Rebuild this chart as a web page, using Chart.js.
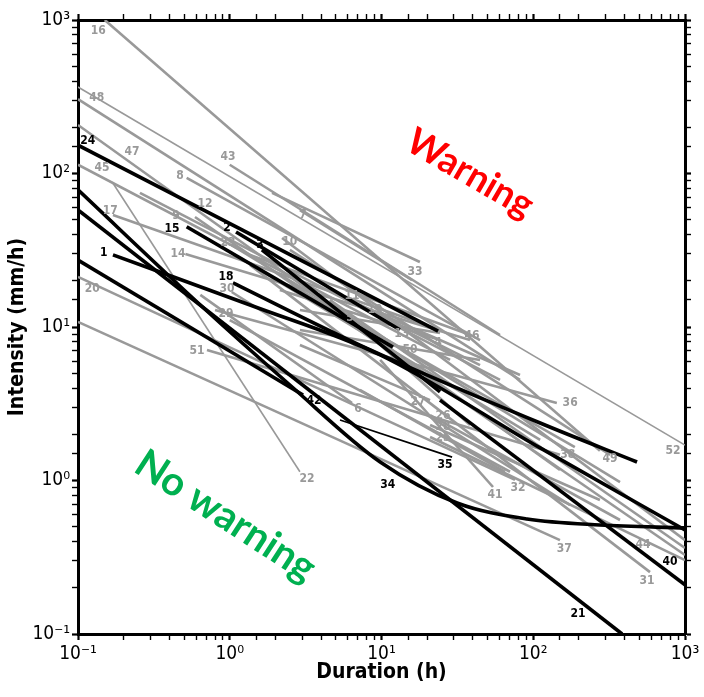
<!DOCTYPE html>
<html>
<head>
<meta charset="utf-8">
<script src="https://cdn.jsdelivr.net/npm/chart.js@4.4.1/dist/chart.umd.min.js"></script>
<style>
  html, body { margin: 0; padding: 0; background: #fff; }
  #wrap { width: 704px; height: 697px; }
</style>
</head>
<body>
<div id="wrap"><canvas id="c" width="704" height="697"></canvas></div>
<script>
"use strict";
// Rainfall intensity-duration thresholds, log-log.

// --- data -------------------------------------------------------------------
const LINE_IDS = [
  24, 15, 2, 3, 40, 1, 18, 42, 21, 34, 35,
  16, 52, 48, 47, 45, 43, 7, 8, 12, 17, 9, 23, 14, 10, 31, 20, 37, 30, 29, 51,
  6, 22, 11, 19, 5, 13, 50, 4, 33, 36, 27, 26, 28, 25, 41, 32, 38, 49, 39, 44, 46,
];
// duration (h) of each vertex
const LINE_DURATION = [
  [0.1, 23.6], [0.52, 11.9], [1.1, 13.2], [1.63, 24.3], [24.3, 1000],
  [0.17, 1.36, 9.8, 111, 1000], [1.05, 7.2, 111, 483], [0.1, 3.04], [0.1, 385],
  [0.1, 0.64, 2.49, 9.8, 31.5, 91, 275, 1000], [5.33, 29.2],
  [0.15, 275], [0.1, 1000], [0.1, 81.8], [0.1, 150], [0.1, 28.3], [1.0, 60.4],
  [1.9, 17.9], [0.52, 44.6], [0.256, 60.4], [0.17, 24.3], [0.59, 1000], [1.03, 373],
  [0.51, 38.3], [2.21, 1000], [1.36, 588], [0.1, 75.8], [0.1, 150], [1.03, 175],
  [1.0, 70.3], [0.708, 150], [0.64, 6.4], [0.168, 2.9], [4.58, 44.6], [7.2, 81.8],
  [4.58, 38.3], [2.9, 24.3], [2.9, 44.6], [2.14, 24.3], [2.9, 15.9], [0.8, 143],
  [2.9, 20.9], [20.9, 373], [20.9, 275], [20.9, 1000], [9.8, 54.3], [7.2, 65.2],
  [2.9, 188], [2.49, 321], [1.58, 111], [4.58, 1000], [1.36, 35.5],
];
// intensity (mm/h) of each vertex
const LINE_INTENSITY = [
  [153, 9.4], [45, 7.4], [41.6, 9.6], [31.8, 3.78], [3.34, 0.209],
  [29.5, 13.9, 6.57, 1.63, 0.476], [19.4, 7.63, 2.37, 1.32], [27.3, 3.61], [57.8, 0.1],
  [78.2, 13.9, 4.19, 1.32, 0.713, 0.561, 0.513, 0.491], [2.48, 1.42],
  [1000, 1.56], [366, 1.7], [305, 4.52], [207, 1.17], [114, 6.1], [114, 8.87],
  [74.7, 26.5], [93.5, 8.22], [74.7, 4.52], [53.7, 9.56], [52.1, 0.327], [34.2, 0.977],
  [29.9, 8.22], [38.0, 0.409], [25.4, 0.253], [21.2, 1.01], [10.8, 0.409], [16.9, 0.692],
  [11.1, 1.14], [7.08, 1.47], [16.2, 3.2], [88.1, 1.14], [17.4, 5.65], [13.9, 4.87],
  [15.0, 2.3], [12.9, 9.14], [9.56, 6.1], [17.4, 8.22], [57.8, 20.2], [12.9, 3.2],
  [7.63, 3.34], [2.67, 0.553], [2.3, 0.746], [1.92, 0.303], [6.1, 0.907], [3.89, 1.14],
  [17.4, 1.65], [31.8, 1.47], [23.5, 1.84], [15.0, 0.363], [29.5, 9.14],
];
const BLACK_IDS = [1, 2, 3, 15, 18, 21, 24, 34, 35, 40, 42];
const THIN_IDS = [52, 22, 35];
const CURVED_IDS = [1, 18, 34];

// number tags written on the plot
const TAG_IDS = [16, 48, 24, 47, 45, 43, 8, 12, 17, 9, 15, 2, 23, 3, 10, 7, 14, 1, 18, 30, 20,
  29, 11, 19, 5, 13, 50, 4, 46, 33, 51, 42, 6, 27, 26, 28, 25, 36, 52, 38, 49, 35, 34, 22,
  41, 32, 37, 44, 40, 31, 21];
const TAG_DURATION = [0.136, 0.133, 0.116, 0.227, 0.144, 0.973, 0.47, 0.687, 0.163, 0.443,
  0.416, 0.959, 0.973, 1.58, 2.49, 3.04, 0.456, 0.148, 0.944, 0.959, 0.124, 0.944, 6.39,
  9.06, 6.2, 13.6, 15.4, 23.6, 39.5, 16.6, 0.608, 3.59, 7.0, 17.4, 25.4, 25.4, 25.4, 175,
  834, 169, 321, 26.2, 11.0, 3.23, 56.0, 79.4, 160, 529, 796, 562, 197];
const TAG_INTENSITY = [848, 310, 163, 138, 109, 128, 96.3, 63.3, 57.0, 52.9, 43.5, 44.2,
  35.3, 34.2, 35.8, 53.7, 29.9, 30.3, 21.2, 17.7, 17.7, 12.2, 15.9, 12.9, 11.5, 9.0, 7.08,
  7.87, 8.74, 22.8, 6.98, 3.29, 2.92, 3.25, 2.63, 2.23, 1.89, 3.2, 1.56, 1.47, 1.38, 1.26,
  0.935, 1.02, 0.805, 0.893, 0.358, 0.38, 0.294, 0.221, 0.135];

const REGION_TEXT = ["Warning", "No warning"];
const REGION_DURATION = [38.3, 0.938];
const REGION_INTENSITY = [100, 0.587];

const AXIS_MIN = 0.1, AXIS_MAX = 1000;
const TICK_VALUES = [0.1, 1, 10, 100, 1000];
const TICK_TEXT = ["10\u207B\u00B9", "10\u2070", "10\u00B9", "10\u00B2", "10\u00B3"];

// --- styles -----------------------------------------------------------------
const NARROW = "'Liberation Sans Narrow','DejaVu Sans Condensed','Liberation Sans',Arial,sans-serif";
const GRAY = "#999999";
const REGION_STYLE = [
  { color: "#ff0000", angle: 30, size: 37 },
  { color: "#00b050", angle: 33, size: 40 },
];

const isMajor = (v) => TICK_VALUES.some(t => Math.abs(v / t - 1) < 1e-6);
const tickText = (v) => {
  const i = TICK_VALUES.findIndex(t => Math.abs(v / t - 1) < 1e-6);
  return i < 0 ? "" : TICK_TEXT[i];
};

const datasets = LINE_IDS.map((id, i) => {
  const black = BLACK_IDS.includes(id);
  const thin = THIN_IDS.includes(id);
  return {
    label: String(id),
    data: LINE_DURATION[i].map((d, k) => ({ x: d, y: LINE_INTENSITY[i][k] })),
    borderColor: black ? "#000" : GRAY,
    borderWidth: thin ? 1.6 : (black ? 3.6 : 2.6),
    pointRadius: 0,
    fill: false,
    cubicInterpolationMode: CURVED_IDS.includes(id) ? "monotone" : "default",
    tension: 0,
    order: black ? 0 : 1,
  };
});

const tickGrid = {
  drawOnChartArea: false, drawTicks: true, tickLength: 6, tickColor: "#000",
  tickWidth: (c) => (c.tick && isMajor(c.tick.value) ? 2.2 : 1.4),
};
const frame = { display: true, color: "#000", width: 3 };
const logAxis = (extra) => Object.assign({
  type: "logarithmic", min: AXIS_MIN, max: AXIS_MAX,
  grid: tickGrid, border: frame,
}, extra);

const textMarks = {
  id: "textMarks",
  afterDatasetsDraw(chart) {
    const { ctx, scales: { x, y } } = chart;
    ctx.save();
    ctx.textAlign = "center";
    ctx.textBaseline = "middle";
    ctx.font = "bold 12px " + NARROW;
    TAG_IDS.forEach((id, i) => {
      ctx.fillStyle = BLACK_IDS.includes(id) ? "#000" : GRAY;
      ctx.fillText(String(id), x.getPixelForValue(TAG_DURATION[i]), y.getPixelForValue(TAG_INTENSITY[i]));
    });
    REGION_TEXT.forEach((t, i) => {
      const st = REGION_STYLE[i];
      ctx.save();
      ctx.translate(x.getPixelForValue(REGION_DURATION[i]), y.getPixelForValue(REGION_INTENSITY[i]));
      ctx.rotate(st.angle * Math.PI / 180);
      ctx.font = "bold " + st.size + "px Lato, 'Open Sans', sans-serif";
      ctx.fillStyle = st.color;
      ctx.fillText(t, 0, 0);
      ctx.restore();
    });
    ctx.restore();
  },
};

new Chart(document.getElementById("c"), {
  type: "line",
  data: { datasets },
  plugins: [textMarks],
  options: {
    responsive: false, animation: false, devicePixelRatio: 1,
    layout: { padding: 0 },
    plugins: { legend: { display: false }, tooltip: { enabled: false } },
    scales: {
      x: logAxis({
        position: "bottom",
        afterFit: (s) => { s.height = 63; },
        ticks: { autoSkip: false, maxRotation: 0, padding: 3, color: "#000",
          font: { family: NARROW, size: 19 }, callback: (v) => tickText(v) },
        title: { display: true, text: "Duration (h)", color: "#000",
          font: { family: NARROW, size: 21, weight: "bold" }, padding: { top: 0, bottom: 12 } },
      }),
      y: logAxis({
        position: "left",
        afterFit: (s) => { s.width = 78; },
        ticks: { autoSkip: false, padding: 2, color: "#000",
          font: { family: NARROW, size: 19 }, callback: (v) => tickText(v) },
        title: { display: true, text: "Intensity (mm/h)", color: "#000",
          font: { family: NARROW, size: 21, weight: "bold" }, padding: { top: 5, bottom: 0 } },
      }),
      x2: logAxis({
        position: "top", axis: "x",
        afterFit: (s) => { s.height = 20; },
        ticks: { display: false, autoSkip: false },
      }),
      y2: logAxis({
        position: "right", axis: "y",
        afterFit: (s) => { s.width = 19; },
        ticks: { display: false, autoSkip: false },
      }),
    },
  },
});
</script>
</body>
</html>
